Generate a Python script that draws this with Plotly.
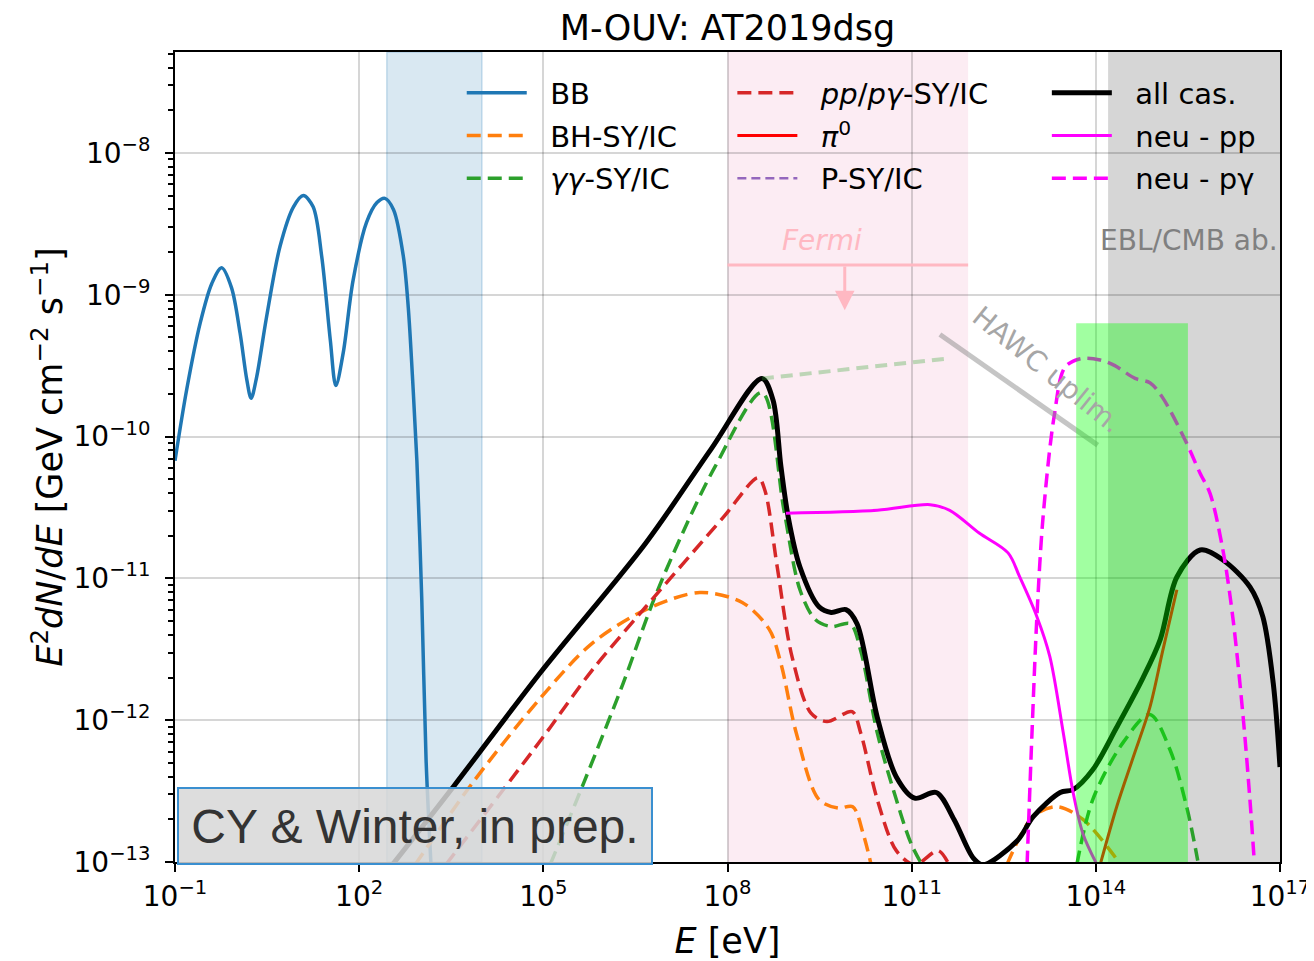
import numpy as np
import plotly.graph_objects as go

# All values, given as log10(E / eV) and
# log10(E^2 dN/dE / GeV cm^-2 s^-1).  None marks a gap (curve below 1e-13).
bb_logE = [-1.0, -0.81, -0.59, -0.40, -0.24, -0.08, 0.06, 0.17, 0.24, 0.33, 0.49, 0.71, 0.93, 1.09,
           1.25, 1.39, 1.53, 1.62, 1.74, 1.90, 2.12, 2.29, 2.42, 2.56, 2.72, 2.80, 2.88, 2.94, 3.02, 3.09, 3.17]
bb_logF = [-10.17, -9.67, -9.20, -8.92, -8.81, -8.95, -9.27, -9.60, -9.73, -9.58, -9.16, -8.66, -8.38, -8.30,
           -8.38, -8.73, -9.32, -9.64, -9.41, -8.90, -8.49, -8.35, -8.32, -8.40, -8.73, -9.09, -9.67, -10.17, -11.15, -12.28, -13.02]

bh_logE = [2.91, 3.85, 4.96, 5.79, 6.67, 7.55, 8.24, 8.68, 8.87, 9.12, 9.49, 9.80, 10.04, 10.21, 10.34,
           None, 12.55, 12.98, 13.37, 13.79, 14.34]
bh_logF = [-13.02, -12.44, -11.84, -11.46, -11.22, -11.10, -11.17, -11.36, -11.60, -12.09, -12.56, -12.62, -12.61, -12.80, -13.02,
           None, -13.02, -12.68, -12.61, -12.70, -12.98]

gg_logE = [5.11, 5.66, 6.30, 6.80, 7.29, 7.80, 8.56, 8.92, 9.18, 9.43, 9.69, 10.00, 10.17, 10.44, 10.75, 10.99, 11.17,
           None, 13.69, 13.95, 14.44, 14.88, 15.21, 15.49, 15.66]
gg_logF = [-13.02, -12.44, -11.74, -11.15, -10.66, -10.21, -9.69, -10.52, -11.08, -11.29, -11.34, -11.32, -11.51, -12.09, -12.56, -12.87, -13.02,
           None, -13.02, -12.56, -12.16, -11.96, -12.21, -12.63, -12.99]

ppg_logE = [3.41, 4.96, 5.79, 6.67, 7.93, 8.50, 8.61, 8.81, 9.05, 9.36, 9.62, 10.03, 10.17, 10.44, 10.75, 11.05, 11.43, 11.61]
ppg_logF = [-13.02, -12.14, -11.65, -11.20, -10.57, -10.29, -10.38, -10.92, -11.55, -11.95, -12.01, -11.94, -12.09, -12.56, -12.92, -13.02, -12.92, -13.02]

pi0_logE = [14.07, 14.34, 14.61, 14.88, 15.09, 15.32]
pi0_logF = [-13.02, -12.61, -12.26, -11.91, -11.51, -11.08]

all_logE = [2.54, 3.55, 4.96, 6.67, 7.73, 8.56, 8.74, 8.87, 8.99, 9.18, 9.49, 9.69, 9.93, 10.11, 10.44, 10.75,
            11.05, 11.40, 11.69, 12.00, 12.16, 12.72, 12.98, 13.42, 13.63, 13.95, 14.34, 14.77, 15.05, 15.32,
            15.70, 16.07, 16.51, 16.72, 16.89, 17.0]
all_logF = [-13.02, -12.46, -11.66, -10.75, -10.09, -9.59, -9.74, -10.21, -10.57, -10.92, -11.20, -11.24, -11.22, -11.32, -11.98, -12.40,
            -12.55, -12.51, -12.70, -12.97, -13.02, -12.85, -12.68, -12.51, -12.49, -12.35, -12.05, -11.70, -11.43, -10.99,
            -10.80, -10.87, -11.06, -11.27, -11.74, -12.33]

nupp_logE = [8.95, 10.44, 11.30, 11.62, 12.10, 12.57, 12.76, 13.04, 13.25, 13.47, 13.63, 13.79, 14.02]
nupp_logF = [-10.54, -10.52, -10.48, -10.52, -10.68, -10.82, -10.99, -11.27, -11.55, -12.09, -12.51, -12.80, -13.02]

nupg_logE = [12.88, 12.96, 13.04, 13.14, 13.32, 13.50, 13.76, 14.07, 14.31, 14.64, 14.88, 15.08, 15.45, 15.70,
             15.86, 16.07, 16.23, 16.40, 16.51, 16.58]
nupg_logF = [-13.02, -12.09, -11.27, -10.57, -9.86, -9.51, -9.45, -9.46, -9.50, -9.59, -9.62, -9.72, -10.02, -10.26,
             -10.40, -10.80, -11.27, -11.98, -12.56, -12.99]

# Fermi upper limit, HAWC upper limit and the faint extrapolation line
fermi_logE = [8.0, 11.92]
fermi_logF = [-8.79, -8.79]
fermi_arrow_logE = 9.91
fermi_arrow_logF = [-8.79, -9.11]
hawc_logE = [11.46, 14.03]
hawc_logF = [-9.28, -10.06]
extrap_logE = [8.56, 11.59]
extrap_logF = [-9.59, -9.45]

# shaded energy bands (log10 E)
band_blue = [2.45, 4.0]
band_fermi = [8.0, 11.92]
band_ebl = [14.2, 17.0]
band_green = [13.68, 15.5]
band_green_top_logF = -9.2

# axis ticks (log10)
x_tick_exp = [-1, 2, 5, 8, 11, 14, 17]
y_tick_exp = [-13, -12, -11, -10, -9, -8]


def p10(v):
    return [None if a is None else 10.0 ** a for a in v]


def sup(n):
    return "10<sup>" + str(n).replace("-", "−") + "</sup>"


DASH = "14px,7px"
FONT = "DejaVu Sans"
GAP = "\u00a0\u00a0"
fig = go.Figure()


def add(name, lx, ly, color, width, dash=None, legend="legend", show=True):
    fig.add_trace(go.Scatter(
        x=p10(lx), y=p10(ly), mode="lines", name=GAP + name, legend=legend, showlegend=show,
        legendgroup=name,
        line=dict(color=color, width=width, dash=dash, shape="spline", smoothing=0.9),
        connectgaps=False, hoverinfo="skip"))


add("BB", bb_logE, bb_logF, "#1f77b4", 3.5)
add("BH-SY/IC", bh_logE, bh_logF, "#ff7f0e", 3.5, DASH)
add("<i>γγ</i>-SY/IC", gg_logE, gg_logF, "#2ca02c", 3.5, DASH)
add("<i>pp</i>/<i>pγ</i>-SY/IC", ppg_logE, ppg_logF, "#d62728", 3.5, DASH, "legend2")
add("<i>π</i><sup>0</sup>", pi0_logE, pi0_logF, "red", 3.0, None, "legend2")
fig.add_trace(go.Scatter(x=[None], y=[None], mode="lines", name=GAP + "P-SY/IC", legend="legend2",
                         legendgroup="psy", line=dict(color="#9467bd", width=2.5, dash="9px,5px")))
add("all cas.", all_logE, all_logF, "black", 5.0, None, "legend3")
add("neu - pp", nupp_logE, nupp_logF, "magenta", 3.0, None, "legend3")
add("neu - pγ", nupg_logE, nupg_logF, "magenta", 3.5, DASH, "legend3")

# annotation lines
fig.add_trace(go.Scatter(x=p10(extrap_logE), y=p10(extrap_logF), mode="lines", showlegend=False,
                         line=dict(color="rgba(44,160,44,0.3)", width=4, dash="12px,7px"), hoverinfo="skip"))
fig.add_trace(go.Scatter(x=p10(fermi_logE), y=p10(fermi_logF), mode="lines", showlegend=False,
                         line=dict(color="#ffb8c2", width=3), hoverinfo="skip"))
fig.add_trace(go.Scatter(x=p10(hawc_logE), y=p10(hawc_logF), mode="lines", showlegend=False,
                         line=dict(color="rgba(140,140,140,0.5)", width=5), hoverinfo="skip"))

shapes = [
    dict(type="rect", xref="x", yref="paper", x0=10 ** band_blue[0], x1=10 ** band_blue[1], y0=0, y1=1,
         fillcolor="rgba(31,119,180,0.17)", line=dict(color="rgba(31,119,180,0.22)", width=1.5), layer="below"),
    dict(type="rect", xref="x", yref="paper", x0=10 ** band_fermi[0], x1=10 ** band_fermi[1], y0=0, y1=1,
         fillcolor="rgba(240,170,200,0.22)", line=dict(width=0), layer="below"),
    dict(type="rect", xref="x", yref="paper", x0=10 ** band_ebl[0], x1=10 ** band_ebl[1], y0=0, y1=1,
         fillcolor="#d6d6d6", line=dict(width=0), layer="below"),
    dict(type="rect", xref="x", yref="y", x0=10 ** band_green[0], x1=10 ** band_green[1],
         y0=1e-13, y1=10 ** band_green_top_logF,
         fillcolor="rgba(0,255,0,0.37)", line=dict(width=0), layer="above"),
]

annotations = [
    dict(x=fermi_arrow_logE, y=fermi_arrow_logF[1], ax=fermi_arrow_logE, ay=fermi_arrow_logF[0],
         xref="x", yref="y", axref="x", ayref="y", text="", showarrow=True,
         arrowhead=2, arrowsize=1.3, arrowwidth=3, arrowcolor="#ffb8c2"),
    dict(x=9.54, y=-8.62, xref="x", yref="y", text="<i>Fermi</i>", showarrow=False,
         font=dict(family=FONT, size=28, color="#ffb8c2")),
    dict(x=17.0, y=-8.614, xref="x", yref="y", xanchor="right", text="EBL/CMB ab.", showarrow=False,
         font=dict(family=FONT, size=28, color="#808080")),
    dict(x=13.2, y=-9.53, xref="x", yref="y", text="HAWC uplim.", showarrow=False, textangle=39,
         font=dict(family=FONT, size=28, color="#a6a6a6")),
    dict(x=0.002, y=-0.004, xref="paper", yref="paper", xanchor="left", yanchor="bottom",
         text="CY & Winter, in prep.", showarrow=False, width=470, height=72, borderpad=1,
         bgcolor="rgba(215,215,215,0.85)", bordercolor="#3a8fd0", borderwidth=2,
         font=dict(family="Liberation Sans", size=48, color="#333333")),
]

legend_common = dict(bgcolor="rgba(0,0,0,0)", borderwidth=0, yanchor="top", xanchor="left",
                     font=dict(family=FONT, size=29, color="black"), tracegroupgap=2, itemwidth=60)

axis_common = dict(type="log", showline=True, linecolor="black", linewidth=2, mirror=True,
                   ticks="outside", tickcolor="black", tickwidth=2, ticklen=8, tickmode="array",
                   showgrid=True, gridcolor="rgba(0,0,0,0.16)", gridwidth=2, automargin=False,
                   zeroline=False, tickfont=dict(family=FONT, size=28, color="black"))

fig.update_layout(
    width=1306, height=953,
    margin=dict(l=167, r=34, t=44, b=99),
    paper_bgcolor="white", plot_bgcolor="white",
    title=dict(text="M-OUV: AT2019dsg", xref="paper", x=0.5, xanchor="center", y=0.979, yanchor="middle",
               font=dict(family=FONT, size=35, color="black")),
    xaxis=dict(axis_common, range=[-1, 17],
               tickvals=p10(x_tick_exp), ticktext=[sup(n) for n in x_tick_exp],
               title=dict(text="<i>E</i> [eV]", font=dict(family=FONT, size=35, color="black"), standoff=18)),
    yaxis=dict(axis_common, range=[-13, -7.288],
               tickvals=p10(y_tick_exp), ticktext=[sup(n) + "\u00a0" for n in y_tick_exp],
               minor=dict(ticks="outside", ticklen=5, tickwidth=1.5, tickcolor="black", showgrid=False,
                          tickmode="array",
                          tickvals=[m * 10.0 ** e for e in range(-13, -7) for m in range(2, 10)]),
               title=dict(text="<i>E</i><sup>2</sup><i>dN</i>/<i>dE</i> [GeV cm<sup>−2</sup> s<sup>−1</sup>]",
                          font=dict(family=FONT, size=35, color="black"), standoff=0)),
    legend=dict(legend_common, x=0.2595, y=0.981),
    legend2=dict(legend_common, x=0.5044, y=0.981),
    legend3=dict(legend_common, x=0.789, y=0.981),
    shapes=shapes,
    annotations=annotations,
    showlegend=True,
)

fig.write_html("out.html")
